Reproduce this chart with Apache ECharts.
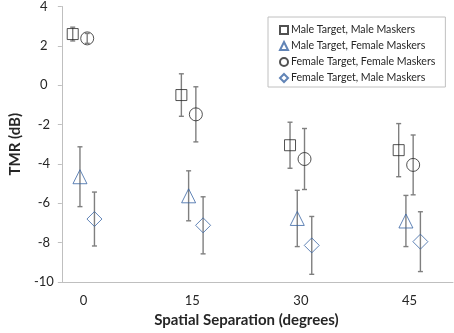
<!DOCTYPE html>
<html>
<head>
<meta charset="utf-8">
<script src="https://cdn.jsdelivr.net/npm/echarts@6/dist/echarts.min.js"></script>
<style>
    html, body { margin: 0; padding: 0; background: #fff; }
    #tmr-chart { width: 454px; height: 333px; }
</style>
</head>
<body>
<div id="tmr-chart"></div>
<script>
// spatial separation (degrees)
var separations = [0, 15, 30, 45];

var seriesNames = [
    'Male Target, Male Maskers',
    'Male Target, Female Maskers',
    'Female Target, Female Maskers',
    'Female Target, Male Maskers'
];

// mean TMR (dB) and error bar half-lengths
var maleMaleMean = [2.6, -0.5, -3.05, -3.3];
var maleMaleErr = [0.35, 1.08, 1.17, 1.35];
var maleFemaleMean = [-4.65, -5.62, -6.77, -6.9];
var maleFemaleErr = [1.52, 1.27, 1.43, 1.3];
var femaleFemaleMean = [2.38, -1.48, -3.75, -4.05];
var femaleFemaleErr = [0.25, 1.4, 1.55, 1.52];
var femaleMaleMean = [-6.8, -7.12, -8.14, -7.95];
var femaleMaleErr = [1.37, 1.45, 1.47, 1.52];

var yTicks = [-10, -8, -6, -4, -2, 0, 2, 4];

(function(){
    var tmrChart = echarts.init(document.getElementById('tmr-chart'));

    var means = [maleMaleMean, maleFemaleMean, femaleFemaleMean, femaleMaleMean];
    var errs = [maleMaleErr, maleFemaleErr, femaleFemaleErr, femaleMaleErr];
    // horizontal offset of each series around the category (x units)
    var offsets = [-1.5, -0.5, 0.5, 1.5];
    var symbols = ['rect', 'triangle', 'circle', 'diamond'];
    var sizes = [11, [14, 14], 13, 15];
    var colors = ['#262626', '#3a65a4', '#262626', '#3a65a4'];

    var series = [];
    var errData = [];
    for (var s = 0; s < 4; s++) {
        var pts = [];
        for (var i = 0; i < separations.length; i++) {
            var x = separations[i] + offsets[s];
            pts.push([x, means[s][i]]);
            errData.push([x, means[s][i] - errs[s][i], means[s][i] + errs[s][i]]);
        }
        series.push({
            name: seriesNames[s],
            type: 'scatter',
            symbol: symbols[s],
            symbolSize: sizes[s],
            z: 3,
            itemStyle: {
                color: 'rgba(255,255,255,0)',
                borderColor: colors[s],
                borderWidth: 1
            },
            emphasis: { disabled: true },
            data: pts
        });
    }

    series.push({
        name: 'error',
        type: 'custom',
        z: 2,
        silent: true,
        renderItem: function (params, api) {
            var x = api.value(0);
            var lo = api.coord([x, api.value(1)]);
            var hi = api.coord([x, api.value(2)]);
            var cap = 2.5;
            var style = { stroke: '#7f7f7f', lineWidth: 1.4 };
            return {
                type: 'group',
                children: [
                    { type: 'line', shape: { x1: lo[0], y1: lo[1], x2: hi[0], y2: hi[1] }, style: style },
                    { type: 'line', shape: { x1: lo[0] - cap, y1: lo[1], x2: lo[0] + cap, y2: lo[1] }, style: style },
                    { type: 'line', shape: { x1: hi[0] - cap, y1: hi[1], x2: hi[0] + cap, y2: hi[1] }, style: style }
                ]
            };
        },
        data: errData
    });

    var tmrChartOption = {
        animation: false,
        textStyle: { fontFamily: 'Lato' },
        grid: {
            left: 51,
            right: 1,
            top: 6,
            bottom: 47,
            containLabel: false
        },
        legend: {
            data: seriesNames,
            orient: 'vertical',
            left: 268,
            top: 17,
            padding: [5, 10, 1, 11],
            itemGap: 0,
            itemWidth: 8,
            itemHeight: 8,
            backgroundColor: '#fff',
            borderColor: '#c0c0c0',
            borderWidth: 1,
            borderRadius: 0,
            selectedMode: false,
            textStyle: {
                fontSize: 10.6,
                color: '#262626',
                lineHeight: 16,
                padding: [0, 0, 0, -2]
            }
        },
        xAxis: {
            type: 'value',
            min: -3,
            max: 51,
            name: 'Spatial Separation (degrees)',
            nameLocation: 'middle',
            nameGap: 31,
            nameTextStyle: { fontSize: 15, fontWeight: 'bold', color: '#262626', padding: [0, 22, 0, 0] },
            splitLine: { show: false },
            axisTick: { show: false },
            axisLine: { onZero: false, lineStyle: { color: '#bfbfbf', width: 1 } },
            axisLabel: {
                customValues: separations,
                fontSize: 13,
                color: '#262626',
                margin: 12
            }
        },
        yAxis: {
            type: 'value',
            min: -10,
            max: 4,
            interval: 2,
            name: 'TMR (dB)',
            nameLocation: 'middle',
            nameGap: 34,
            nameTextStyle: { fontSize: 15, fontWeight: 'bold', color: '#262626' },
            splitLine: { show: false },
            axisLine: { show: true, onZero: false, lineStyle: { color: '#bfbfbf', width: 1 } },
            axisTick: { show: true, inside: false, length: 4, lineStyle: { color: '#bfbfbf' } },
            axisLabel: {
                fontSize: 13,
                color: '#262626',
                align: 'center',
                margin: 18,
                formatter: function (v) { return yTicks.indexOf(v) >= 0 ? String(v) : ''; }
            }
        },
        series: series
    };

    tmrChart.setOption(tmrChartOption);
})();
</script>
</body>
</html>
